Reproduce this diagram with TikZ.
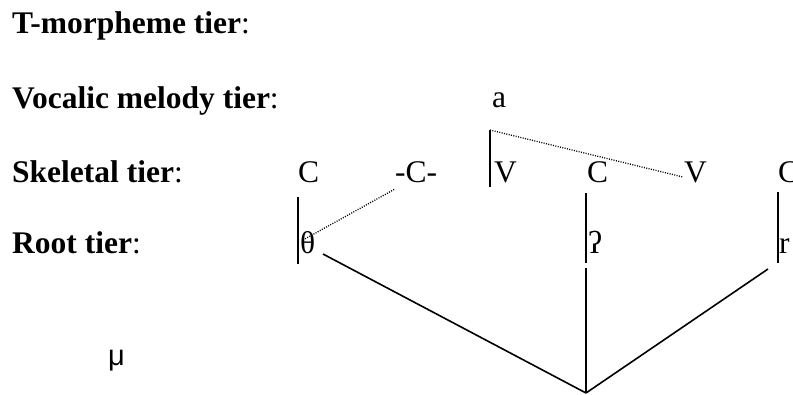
\documentclass[tikz,border=0pt]{standalone}
\usepackage{fontspec}
\setmainfont{Liberation Serif}
\newfontfamily\mufont{Liberation Sans}

\begin{document}
\begin{tikzpicture}[x=1pt, y=-1pt,
    every node/.style={font=\fontsize{31.5}{36}\selectfont, inner sep=0pt, anchor=base west},
    assoc/.style={line width=1.6pt},
    spread/.style={line width=1.3pt, dash pattern=on 1pt off 1.4pt}]
  \useasboundingbox (0,0) rectangle (793,394);
  % tier labels
  \node (tmorph) at (12,33)  {\textbf{T-morpheme tier}:};
  \node (vocal)  at (12,108) {\textbf{Vocalic melody tier}:};
  \node (skel)   at (12,182) {\textbf{Skeletal tier}:};
  \node (root)   at (12,253) {\textbf{Root tier}:};
  % melody
  \node (a) at (492,107) {a};
  % skeleton
  \node (c1) at (298,182) {C};
  \node (c2) at (395,182) {-C-};
  \node (v1) at (494,182) {V};
  \node (c3) at (587,182) {C};
  \node (v2) at (684,182) {V};
  \node (c4) at (778,182) {C};
  % roots
  \node (theta) at (300,253) {θ};
  \node (glot)  at (588,253) {ʔ};
  \node (r)     at (779,253) {r};
  % mora
  \node[font=\mufont\fontsize{29}{34}\selectfont] (mu) at (108,365) {μ};
  % line ends
  \coordinate (apex) at (586,393);
  \coordinate (vtop) at (490,130);
  \coordinate (vend) at (683,177);
  % association lines
  \draw[assoc] (298,197) -- (298,264);
  \draw[assoc] (vtop) -- (490,187);
  \draw[assoc] (586,193) -- (586,263);
  \draw[assoc] (778,192) -- (778,263);
  \draw[spread] (303,240) -- (395,189);
  \draw[spread] (vtop) -- (vend);
  % links to the apex
  \draw[assoc] (323,254) -- (apex);
  \draw[assoc] (586,268) -- (apex);
  \draw[assoc] (768,269) -- (apex);
\end{tikzpicture}
\end{document}
